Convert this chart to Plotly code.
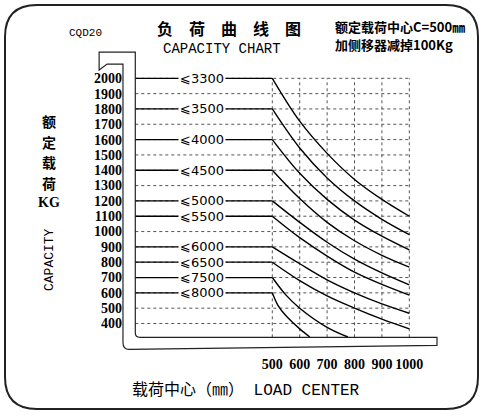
import plotly.graph_objects as go

W, H = 485, 416

# load centre (mm) and grid levels (kg)
center_mm = [500, 600, 700, 800, 900, 1000]
grid_kg = [400, 500, 600, 700, 800, 900, 1000, 1100, 1200, 1300,
           1400, 1500, 1600, 1700, 1800, 1900, 2000]

# rated capacity (kg) at 500 mm for each lifting height band
rated_kg = [2000, 1800, 1600, 1400, 1200, 1100, 900, 800, 700, 600]
height_labels = ['⩽3300', '⩽3500', '⩽4000', '⩽4500', '⩽5000',
                 '⩽5500', '⩽6000', '⩽6500', '⩽7500', '⩽8000']

# capacity curves (kg vs load centre)
cap_2000 = [2000, 1720, 1510, 1340, 1210, 1100]
cap_1800 = [1800, 1545, 1350, 1200, 1080, 980]
cap_1600 = [1600, 1380, 1210, 1075, 970, 880]
cap_1400 = [1400, 1215, 1060, 940, 845, 768]
cap_1200 = [1200, 1060, 930, 820, 730, 652]
cap_1100 = [1100, 960, 840, 735, 655, 585]
cap_900 = [900, 790, 685, 600, 528, 467]
cap_800 = [800, 680, 580, 500, 428, 365]
cap_700_x = [500, 550, 600, 700, 776]
cap_700 = [700, 585, 500, 375, 312]
cap_600_x = [500, 520, 550, 600, 637]
cap_600 = [600, 520, 450, 365, 312]

curve_x = [center_mm] * 8 + [cap_700_x, cap_600_x]
curve_y = [cap_2000, cap_1800, cap_1600, cap_1400, cap_1200,
           cap_1100, cap_900, cap_800, cap_700, cap_600]

side_label = ['额', '定', '载', '荷', 'KG']

FORK_BOTTOM = 310


def paper(x, y):
    return x / W, 1 - y / H


fig = go.Figure()

# dotted grid
gx, gy = [], []
for kg in grid_kg:
    gx += [0, 1000, None]
    gy += [kg, kg, None]
for mm in center_mm:
    gx += [mm, mm, None]
    gy += [FORK_BOTTOM, 2000, None]
fig.add_trace(go.Scatter(x=gx, y=gy, mode='lines',
                         line=dict(color='#555', width=1, dash='dot'),
                         hoverinfo='skip', showlegend=False))

# flat part of each band (0 - 500 mm)
fx, fy = [], []
for kg in rated_kg:
    fx += [0, 500, None]
    fy += [kg, kg, None]
fig.add_trace(go.Scatter(x=fx, y=fy, mode='lines',
                         line=dict(color='black', width=1.3),
                         hoverinfo='skip', showlegend=False))

for xs, ys in zip(curve_x, curve_y):
    fig.add_trace(go.Scatter(x=xs, y=ys, mode='lines', line_shape='spline',
                             line=dict(color='black', width=1.4),
                             showlegend=False))

annotations = []
for kg, lab in zip(rated_kg, height_labels):
    annotations.append(dict(x=245, y=kg, text=lab, showarrow=False,
                            xanchor='center', yanchor='middle',
                            bgcolor='white', borderpad=1,
                            font=dict(family='DejaVu Sans', size=13, color='black')))


def note(x, y, text, size, family, bold=False, angle=0, xanchor='center'):
    px, py = paper(x, y)
    annotations.append(dict(x=px, y=py, xref='paper', yref='paper', text=text,
                            showarrow=False, textangle=angle,
                            xanchor=xanchor, yanchor='middle',
                            font=dict(family=family, size=size, color='black',
                                      weight='bold' if bold else 'normal')))


cjk = 'Noto Sans CJK SC'
note(85, 33, 'CQD20', 11, 'Liberation Mono')
note(229, 28, '负　荷　曲　线　图', 16, cjk, bold=True)
note(222, 49, 'CAPACITY CHART', 14, 'Liberation Mono')
note(333, 26, '额定载荷中心C=500㎜', 13, cjk, bold=True, xanchor='left')
note(333, 45, '加侧移器减掉100Kg', 13, cjk, bold=True, xanchor='left')
for i, ch in enumerate(side_label):
    note(49, 121 + i * 20.5, ch, 14, cjk if i < 4 else 'Liberation Serif', bold=True)
note(49, 260, 'CAPACITY', 13, 'Liberation Mono', angle=-90)
note(246, 390, '载荷中心（㎜） LOAD CENTER', 16, 'Liberation Mono, ' + cjk)

# rounded border of the plate
x0, x1, y0, y1, r = 5, 478, 5, 409, 32
pts = [('M', x0 + r, y0), ('L', x1 - r, y0), ('Q', x1, y0, x1, y0 + r),
       ('L', x1, y1 - r), ('Q', x1, y1, x1 - r, y1), ('L', x0 + r, y1),
       ('Q', x0, y1, x0, y1 - r), ('L', x0, y0 + r), ('Q', x0, y0, x0 + r, y0)]
path = ''
for p in pts:
    cmd, coords = p[0], p[1:]
    conv = []
    for i in range(0, len(coords), 2):
        a, b = paper(coords[i], coords[i + 1])
        conv.append(f'{a:.5f},{b:.5f}')
    path += cmd + ' ' + ' '.join(conv) + ' '
path += 'Z'

shapes = [
    dict(type='path', xref='paper', yref='paper', path=path,
         line=dict(color='#222', width=2)),
    # fork / mast outline in data units
    dict(type='path', xref='x', yref='y',
         path=('M 0,2171 L -132,2171 L -132,2054 L -103,2093 L -45,2093 '
               'L -45,276 Q -45,231 -23,231 L 1101,257 L 1101,310 '
               'L 17,310 Q 0,310 0,338 Z'),
         line=dict(color='#222', width=1.2)),
]

fig.update_layout(
    width=W, height=H, autosize=False,
    margin=dict(l=0, r=0, t=0, b=0, pad=0),
    paper_bgcolor='white', plot_bgcolor='white',
    xaxis=dict(range=[-150, 1120], domain=[0.19423, 0.91175],
               tickvals=center_mm, showgrid=False, zeroline=False,
               showline=False, ticks='',
               tickfont=dict(family='Liberation Serif', size=14,
                             color='black', weight='bold')),
    yaxis=dict(range=[200, 2200], domain=[0.14868, 0.88546],
               anchor='free', position=0.2515,
               tickvals=grid_kg, showgrid=False, zeroline=False,
               showline=False, ticks='',
               tickfont=dict(family='Liberation Serif', size=14,
                             color='black', weight='bold')),
    annotations=annotations,
    shapes=shapes,
)

fig.write_html('out.html', config={'displayModeBar': False},
               post_script="document.body.style.margin='0';")
